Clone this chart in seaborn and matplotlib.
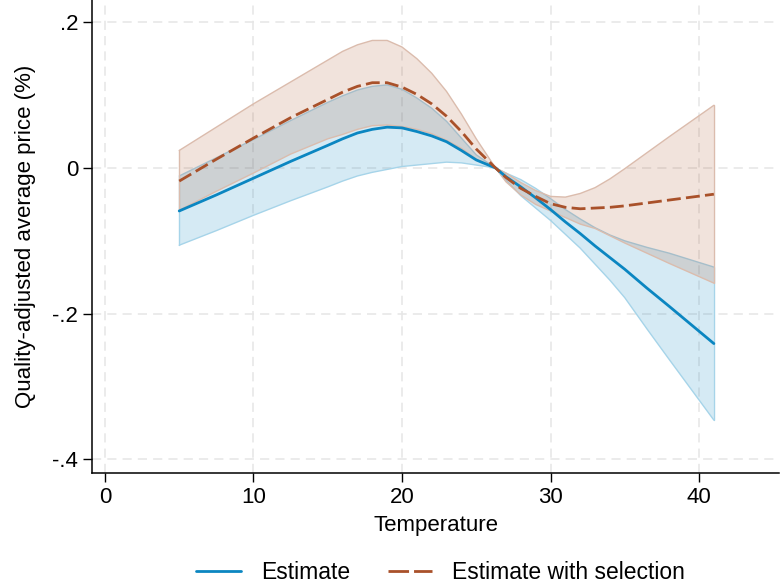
import pandas as pd
import matplotlib
matplotlib.use("Agg")
import matplotlib.pyplot as plt
from matplotlib.lines import Line2D
import seaborn as sns

# Temperature grid and spline estimates (percent price effect, relative to ~26 degrees)
temperature = [5, 7.5, 10, 12.5, 15, 16, 17, 18, 19, 20, 21, 22, 23, 24, 25, 26.3,
               27, 28, 29, 30, 31, 32, 33, 34, 35, 36.5, 38, 41]

estimate = [-0.059, -0.037, -0.014, 0.009, 0.031, 0.040, 0.048, 0.053, 0.056, 0.055,
            0.050, 0.044, 0.036, 0.024, 0.011, 0.0, -0.012, -0.026, -0.041, -0.057,
            -0.074, -0.090, -0.107, -0.123, -0.139, -0.165, -0.190, -0.241]
estimate_lo = [-0.106, -0.086, -0.065, -0.045, -0.026, -0.018, -0.011, -0.006, -0.002,
               0.002, 0.004, 0.006, 0.008, 0.007, 0.004, 0.0, -0.017, -0.038, -0.055,
               -0.072, -0.091, -0.110, -0.132, -0.154, -0.178, -0.221, -0.263, -0.346]
estimate_hi = [-0.011, 0.014, 0.039, 0.065, 0.090, 0.099, 0.107, 0.112, 0.114, 0.108,
               0.096, 0.082, 0.064, 0.041, 0.018, 0.0, -0.007, -0.016, -0.028, -0.042,
               -0.057, -0.070, -0.082, -0.092, -0.100, -0.109, -0.117, -0.136]

selection = [-0.018, 0.012, 0.041, 0.069, 0.094, 0.104, 0.112, 0.117, 0.117, 0.111,
             0.101, 0.088, 0.071, 0.050, 0.026, 0.0, -0.013, -0.028, -0.039, -0.049,
             -0.054, -0.056, -0.055, -0.054, -0.052, -0.048, -0.044, -0.036]
selection_lo = [-0.058, -0.032, -0.007, 0.019, 0.040, 0.046, 0.053, 0.058, 0.059, 0.057,
                0.053, 0.047, 0.038, 0.027, 0.012, 0.0, -0.019, -0.037, -0.050, -0.059,
                -0.068, -0.077, -0.083, -0.093, -0.103, -0.117, -0.131, -0.158]
selection_hi = [0.024, 0.056, 0.088, 0.118, 0.148, 0.160, 0.169, 0.175, 0.175, 0.166,
                0.150, 0.130, 0.105, 0.074, 0.040, 0.0, -0.007, -0.020, -0.031, -0.039,
                -0.040, -0.035, -0.027, -0.015, -0.001, 0.021, 0.043, 0.086]

x_ticks = [0, 10, 20, 30, 40]
y_ticks = [0.2, 0.0, -0.2, -0.4]
y_tick_labels = [".2", "0", "-.2", "-.4"]
series_names = ["Estimate", "Estimate with selection"]

blue = "#0b86c1"
brown = "#a9512a"
blue_edge = "#a6d4e9"
brown_edge = "#dbbcad"
dash = (5.0, 1.9)
legend_dash = (7.4, 1.8)

sns.set_theme(style="white")
plt.rcParams["font.family"] = ["Liberation Sans", "DejaVu Sans"]
plt.rcParams.update({
    "text.color": "black",
    "axes.labelcolor": "black",
    "xtick.color": "black",
    "ytick.color": "black",
})

df = pd.DataFrame({
    "Temperature": temperature * 2,
    "value": estimate + selection,
    "series": [series_names[0]] * len(temperature) + [series_names[1]] * len(temperature),
})

fig = plt.figure(figsize=(7.8, 5.87), dpi=100)
ax = fig.add_axes([0.118, 0.1937, 0.881, 0.8063])


def band(lo, hi, face, edge, alpha, z):
    ax.fill_between(temperature, lo, hi, facecolor=face, alpha=alpha,
                    edgecolor="none", zorder=z)
    ax.plot(temperature, lo, color=edge, lw=1.0, zorder=z + 0.05)
    ax.plot(temperature, hi, color=edge, lw=1.0, zorder=z + 0.05)
    for i in (0, -1):
        ax.plot([temperature[i]] * 2, [lo[i], hi[i]], color=edge, lw=1.0, zorder=z + 0.05)


# Confidence bands
band(estimate_lo, estimate_hi, blue, blue_edge, 0.17, 2.0)
band(selection_lo, selection_hi, brown, brown_edge, 0.16, 2.2)

# Point estimates
sns.lineplot(data=df, x="Temperature", y="value", hue="series", style="series",
             palette={series_names[0]: blue, series_names[1]: brown},
             dashes={series_names[0]: "", series_names[1]: dash},
             linewidth=2.0, ax=ax, legend=False, zorder=3, sort=False)

ax.set_xlim(-0.87, 45.4)
ax.set_ylim(-0.419, 0.2305)
ax.set_xticks(x_ticks)
ax.set_yticks(y_ticks)
ax.set_yticklabels(y_tick_labels)

ax.grid(True, color="#e6e6e6", linestyle=(0, (6, 4)), linewidth=1.1, zorder=0)
for side in ["top", "right"]:
    ax.spines[side].set_visible(False)
for side in ["left", "bottom"]:
    ax.spines[side].set_color("black")
    ax.spines[side].set_linewidth(1.1)

ax.tick_params(axis="both", which="major", direction="out", length=6.5, width=1.0,
               color="black", labelcolor="black", labelsize=16, pad=3.5,
               left=True, bottom=True)

ax.set_xlabel("Temperature", fontsize=16, labelpad=5, color="black")
ax.set_ylabel("Quality-adjusted average price (%)", fontsize=16, labelpad=12, color="black")

handles = [
    Line2D([], [], color=blue, lw=2.0),
    Line2D([], [], color=brown, lw=2.0, dashes=legend_dash),
]
leg = fig.legend(handles, series_names, loc="center",
                 bbox_to_anchor=(0.565, 0.024), ncol=2, frameon=False, fontsize=16.5,
                 handlelength=1.95, handletextpad=0.87, columnspacing=1.65)
for t in leg.get_texts():
    t.set_color("black")

fig.savefig("out.png", dpi=100)
